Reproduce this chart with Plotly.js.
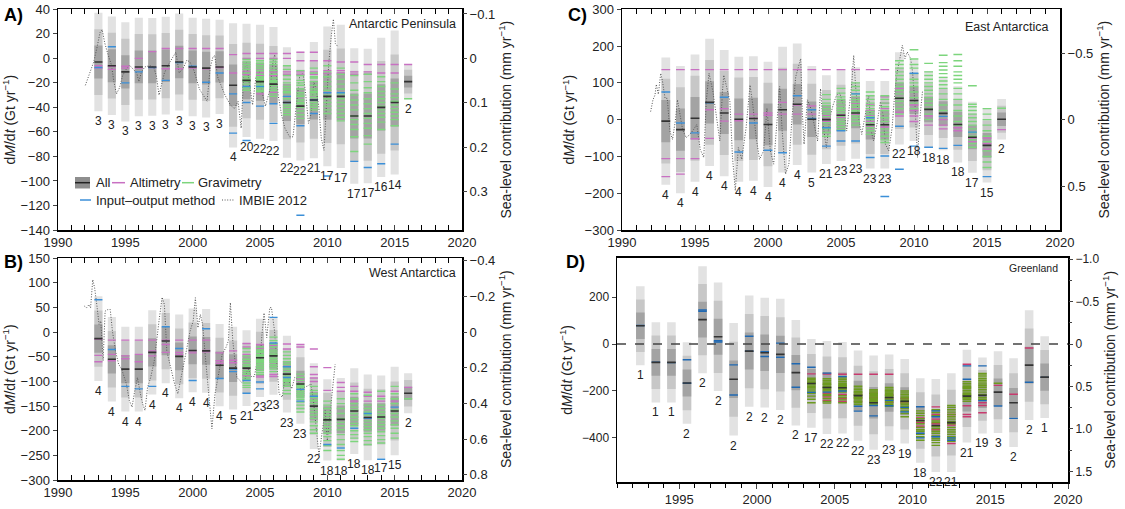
<!DOCTYPE html>
<html><head><meta charset="utf-8">
<script src="https://cdn.plot.ly/plotly-3.0.1.min.js"></script>
<style>html,body{margin:0;padding:0;background:#fff}#chart{width:1125px;height:509px}</style>
</head><body><div id="chart"></div>
<script>
// ---------------- DATA ----------------
const A_years = [1993,1994,1995,1996,1997,1998,1999,2000,2001,2002,2003,2004,2005,2006,2007,2008,2009,2010,2011,2012,2013,2014,2015,2016];
const A_mean  = [-3,-6,-11,-7,-7,-6,-3,-7,-8,-7,-22,-18,-19,-21,-36,-39,-34,-31,-31,-47,-47,-40,-36,-19];
const A_sigma = [13.4,13.4,13.5,13.4,13.3,13.3,13.2,13.4,13.4,12.8,16.9,15.4,15.5,15.5,15.0,14.8,15.8,19.0,19.5,18.4,18.3,18.9,19.6,4.8];
const A_count = [3,3,3,3,3,3,3,3,3,3,4,20,22,22,22,22,21,17,17,17,17,16,14,2];
const A_alt = [[-6,-8],[-6.5,-9],[-6.5,-8],[0,-8],[5.5,-7.5],[8,-8.5],[8,-8.5],[8,-8],[8,-8.5],[8,-7.5],[3,-12],
  [4,0,-11,-13],[4,0,-12,-14,-29],[4,0,-11,-14,-28],[4,0,-11,-13],[5,-2,-11,-13],[5,-2,-11,-13],[-2,-10,-12],[-3,-10,-12],[-3,-11,-13],[-5,-11,-13],[-5,-12],[-5,-12],[-5]];
const A_grav = [[],[],[],[],[],[],[],[],[],[],[],
  [-1,-3,-5,-7,-9,-12,-15,-17,-19,-21,-24,-26,-18],
  [-2,-4,-6,-8,-10,-13,-15,-16,-18,-20,-22,-24,-26,-27,-17],
  [-1,-3,-5,-8,-10,-13,-16,-18,-19,-22,-24,-26,-29,-31,-20],
  [-6,-9,-14,-17,-20,-23,-25,-28,-31,-33,-38,-40,-42,-44,-46,-27],
  [-10,-14,-18,-22,-25,-28,-31,-34,-37,-40,-43,-46,-49,-20,-36,-30],
  [-8,-12,-16,-19,-22,-25,-28,-30,-32,-36,-38,-40,-42,-27,-15],
  [-6,-11,-15,-19,-23,-26,-30,-33,-36,-39,-42,-45],
  [-8,-13,-17,-21,-25,-29,-33,-36,-39,-42,-45,-48,-51],
  [-14,-20,-26,-30,-34,-38,-42,-47,-50,-54,-58,-64,-76],
  [-13,-19,-24,-28,-33,-37,-41,-45,-49,-53,-57,-63,-70],
  [-15,-19,-23,-27,-30,-33,-36,-39,-42,-45,-48,-52,-58],
  [-20,-25,-29,-32,-35,-38,-41,-44,-47,-50,-55],
  [-33]];
const A_iom = [[-7.5],[9.5],[-20],[-11],[-7.5],[-18],[-3.5],[-6.5],[-19.5],[-12],[-29,-61],
  [-23,-36,-67],[-23,-39],[-37,-53],[-31,-36],[-55,-128],[-34,-45],[-28,-96],[-28],[-84],[-89],[-86],[-70],[]];
const A_imbieX = [1992.03,1992.26,1992.49,1992.65,1992.88,1993.12,1993.28,1993.46,1993.69,1993.97,1994.15,1994.34,1994.57,1994.8,1995.03,1995.3,1995.6,1995.85,1996.0,1996.2,1996.45,1996.8,1997.1,1997.3,1997.5,1997.7,1997.9,1998.15,1998.45,1998.75,1999.0,1999.3,1999.57,1999.8,2000.1,2000.5,2001.07,2001.3,2001.5,2001.64,2001.85,2002.1,2002.4,2002.8,2003.1,2003.37,2003.6,2003.8,2004.0,2004.2,2004.45,2004.7,2004.95,2005.1,2005.4,2005.75,2006.0,2006.1,2006.35,2006.6,2006.85,2007.2,2007.45,2007.7,2007.95,2008.2,2008.4,2008.6,2008.8,2009.0,2009.15,2009.35,2009.55,2009.75,2009.95,2010.1,2010.3,2010.45,2010.6,2010.75];
const A_imbieY = [-22,-15,-7,-3,8,21,23.5,13,4,-5.5,-19,-29,-24,-14,-9.5,-5.5,-9,-12,-19,-11,-7,-6,-7,-14,-30,-20,-12,-6,0,5,-12,-8,-1.5,-3,-10,-25,-35,-8,1,2.5,-15,-22,-30,-38,-41,-35,-57,-11,-3,-20,-38,-15,-11,-25,-39,-25,0,3,-30,-46,-57,-64,-64,-38,-14,-12,-30,-53,-45,-19,-25,-38,-65,-75,-40,-5,19,32,12,10];

const B_years = [1993,1994,1995,1996,1997,1998,1999,2000,2001,2002,2003,2004,2005,2006,2007,2008,2009,2010,2011,2012,2013,2014,2015,2016];
const B_mean  = [-13,-55,-75,-75,-41,-18,-49,-37,-38,-67,-73,-73,-52,-48,-85,-105,-150,-178,-177,-160,-173,-172,-160,-124];
const B_sigma = [28.6,28.6,28.7,28.7,28.5,28.6,28.3,28.3,28.3,27.8,28,25.6,26.5,26.3,26,27,29,27.5,28,29,29,28,30,13.5];
const B_count = [4,4,4,4,4,4,4,4,4,4,5,21,23,23,23,23,22,18,18,18,18,17,15,2];
const B_alt = [[-14,-47,-60],[-16,-45,-58],[-16,-48,-54],[-16,-45,-60],[-16,-38,-48],[-16,-25,-41],[-16,-41,-45],[-16,-38,-42],[-16,-37,-40],[-42,-58,-63],[-38,-57,-62],
  [-23,-30,-45,-88],[-25,-32,-88,-91],[-27,-35,-86,-90],[-24,-34,-85,-90],[-25,-30,-95,-100],[-34,-70,-86,-93,-100],[-72,-118],[-102,-112,-120],[-110,-120,-140],[-122,-130,-140],[-130,-140],[-120,-140],[-112]];
const B_grav = [[],[],[],[],[],[],[],[],[],[],[],
  [-33,-40,-48,-55,-60,-66,-70,-78,-82,-86,-92,-96,-103,-108,-112],
  [-30,-36,-41,-45,-50,-55,-58,-62,-66,-70,-74,-78,-82,-86,-60,-47,-39],
  [-10,-17,-24,-30,-36,-40,-44,-48,-53,-57,-61,-66,-70,-75,-80,-58,-46],
  [-40,-47,-54,-60,-65,-70,-75,-80,-85,-89,-95,-100,-105,-110,-118,-125,-98],
  [-85,-92,-98,-104,-108,-112,-116,-120,-124,-128,-132,-136,-142,-148,-155,-162,-110],
  [-110,-118,-125,-132,-138,-145,-150,-156,-162,-168,-175,-182,-190,-198,-205,-140],
  [-140,-148,-155,-162,-168,-174,-180,-186,-192,-198,-205,-212,-220,-230,-240],
  [-135,-145,-155,-165,-175,-183,-190,-198,-208,-218,-228,-240,-250,-258],
  [-125,-135,-145,-152,-158,-165,-172,-178,-185,-190,-200,-208,-215,-222],
  [-128,-148,-155,-162,-168,-180,-186,-192,-198,-205,-212,-220,-228],
  [-120,-135,-148,-155,-162,-168,-175,-182,-188,-195,-202,-210,-218,-225],
  [-110,-125,-135,-145,-158,-165,-172,-180,-188,-195,-205,-215],
  [-135]];
const B_iom = [[66],[-35],[-110],[-115],[-110],[11],[-33],[-98],[7],[-94],[-75,-80],
  [-98,-124],[-101,-115],[30,-22],[-70,-92],[-116,-140],[-130],[-228],[-235],[-195],[-165,-175],[-258],[-152],[]];
const B_imbieX = [1991.96,1992.12,1992.3,1992.42,1992.58,1992.72,1992.88,1993.05,1993.18,1993.35,1993.5,1993.7,1993.88,1994.04,1994.27,1994.5,1994.73,1995.08,1995.3,1995.5,1995.66,1995.9,1996.12,1996.28,1996.46,1996.65,1996.88,1997.15,1997.5,1997.73,1997.9,1998.08,1998.31,1998.66,1998.9,1999.12,1999.35,1999.58,1999.81,2000.04,2000.2,2000.39,2000.57,2000.74,2000.97,2001.2,2001.43,2001.66,2001.9,2002.19,2002.47,2002.65,2002.8,2002.98,2003.28,2003.5,2003.65,2003.88,2004.1,2004.35,2004.58,2004.8,2004.99,2005.15,2005.3,2005.5,2005.73,2005.85,2006.08,2006.24,2006.42,2006.65,2006.88,2007.1,2007.35,2007.58,2007.8,2008.04,2008.27,2008.55,2008.78,2008.97,2009.2,2009.38,2009.6,2009.84,2010.0,2010.17,2010.35,2010.58];
const B_imbieY = [53,49.5,56,49.5,106.7,90,56,16,22.6,-58,42.8,46,46,2.4,-38,-65,-75,-105,-139,-152,-125,-92,-125,-145,-159,-112,-92,-58,22.6,71,56,-38,-65,-105,-125,-92,-58,-31,2.4,22.6,70,9,36,16,-58,-125,-196,-125,-92,-45,-31,-18,60,-18,-92,-98,-102,-97,-72,-90,-90,-58,-61,-4,39,-11,50,50,2.4,-58,-125,-132,-88,-95,-115,-92,-95,-119,-112,-109,-105,-139,-199,-250,-206,-159,-220,-179,-125,-65];

const C_years = [1993,1994,1995,1996,1997,1998,1999,2000,2001,2002,2003,2004,2005,2006,2007,2008,2009,2010,2011,2012,2013,2014,2015,2016];
const C_mean  = [-4,-27,4,47,18,1,3,-13,27,42,1,0,12,18,-14,-14,58,52,28,17,-13,-48,-70,1];
const C_sigma = [57.7,57.6,57.7,57.7,57.2,56.7,56.4,56.8,57,55,48.3,40.3,41.5,41.5,39.7,39.7,41.8,36.7,34.8,33.3,34.5,32.2,33.7,18.3];
const C_count = [4,4,4,4,4,4,4,4,4,4,5,21,23,23,23,23,22,18,18,18,18,17,15,2];
const C_alt = [[136,-106,-155],[136,-106,-148],[136,-52,-106],[136,27,-51],[136,30,-4],[136,15,-3],[136,15,4],[136,18,12],[136,47,15],[136,15,40],[136,37,15],
  [136,12,5,-5,-15],[136,40,25,15,5],[136,60,45,30,15],[136,40,25,10,-5,-20],[136,62,45,30,15,-5,-20],[85,60,40,20,10],[40,25,10,-5],[10,0,-15],[0,-15,-25],[-22,-30],[-50,-60],[-50,-65,-80],[-27]];
const C_grav = [[],[],[],[],[],[],[],[],[],[],[],
  [68,55,45,38,30,22,15,8,0,-8,-15,-25,-35,-45],
  [85,72,62,55,48,40,32,25,18,10,2,-5,-12,-20,-28,30],
  [100,90,80,70,62,55,48,40,33,25,18,10,3,-5,-15,20],
  [75,65,55,45,38,30,22,15,8,0,-8,-15,-22,-30,-40],
  [65,55,45,35,25,15,5,-5,-15,-25,-35,-45,-55,-62],
  [160,150,140,130,120,110,100,90,80,70,60,50,40,30,15],
  [190,165,150,140,125,110,100,90,75,60,45,30],
  [153,130,120,110,100,90,80,70,60,50,40,30,15,0],
  [175,155,145,135,125,115,105,95,85,70,55,40,25],
  [177,160,145,130,120,110,100,85,70,55,40,25,10,-5,-15],
  [92,42,35,25,15,5,-5,-15,-25,-35,-45,-55,-65,-75],
  [30,15,0,-15,-30,-45,-60,-85,-100,-115,-130],
  [31]];
const C_iom = [[75],[-9],[-36],[46],[61],[-88],[-9],[-83],[-90],[65],[27,3],
  [-22,-72],[-30,-58],[-58,70],[-103,5],[-99,-209],[-18,-135],[126,-72],[-75],[9,-78],[-70],[-34],[-155],[]];
const C_imbieX = [1991.96,1992.12,1992.26,1992.35,1992.49,1992.65,1992.77,1992.95,1993.1,1993.28,1993.46,1993.65,1993.8,1993.97,1994.15,1994.39,1994.66,1994.9,1995.12,1995.36,1995.6,1995.77,1995.96,1996.23,1996.46,1996.7,1996.88,1996.97,1997.16,1997.39,1997.57,1997.76,1997.97,1998.2,1998.5,1998.77,1998.96,1999.19,1999.42,1999.7,1999.93,2000.16,2000.39,2000.62,2000.8,2000.97,2001.2,2001.43,2001.66,2001.9,2002.12,2002.24,2002.35,2002.47,2002.7,2002.93,2003.16,2003.4,2003.6,2003.77,2004.0,2004.23,2004.46,2004.7,2004.92,2005.15,2005.39,2005.55,2005.73,2005.87,2006.0,2006.2,2006.42,2006.66,2006.9,2007.07,2007.23,2007.46,2007.7,2007.88,2008.04,2008.27,2008.5,2008.69,2008.85,2009.03,2009.2,2009.38,2009.54,2009.77,2009.9,2010.07,2010.24,2010.4,2010.58];
const C_imbieY = [22,54,67,96,69,126,105,58,58,-31,-54,-4,54,13,-27,-49,-40,-27,-13,-81,-103,49,126,76,13,-58,76,121,90,49,-103,-193,-76,-108,-22,94,40,-49,-108,-85,31,-85,-121,-13,90,-31,-148,-121,13,117,153,166,22,-67,54,31,-13,-58,84,-13,-76,4,40,67,72,40,-31,22,94,175,90,4,-40,13,67,-31,-58,-13,49,13,-67,-85,-22,76,130,166,202,166,184,166,130,40,-103,4,76];

const D_years = [1992.5,1993.5,1994.5,1995.5,1996.5,1997.5,1998.5,1999.5,2000.5,2001.5,2002.5,2003.5,2004.5,2005.5,2006.5,2007.5,2008.5,2009.5,2010.5,2011.5,2012.5,2013.5,2014.5,2015.5,2016.5,2017.5,2018.5];
const D_mean  = [78,-78,-78,-166,104,31,-150,-30,-37,-44,-122,-168,-185,-186,-220,-250,-228,-244,-326,-347,-335,-222,-219,-205,-250,-90,-141];
const D_sigma = [56,57,57,58,76,77,80,79,78,79,75,63,66,65,64,67,61,60,60,66,70,66,54,58,63,78,58];
const D_count = [1,1,1,2,2,2,2,2,2,2,2,17,22,22,22,23,23,19,18,22,21,21,19,3,2,2,1];
const D_alt = [[],[],[],[],[],[],[],[],[],[],[],[-127],[-128,-210,-225,-240],[-129,-215,-232,-245],[-129,-215,-230,-245],[-129,-210,-228,-245],[-129,-215,-230,-248],[-232,-250],[-315,-335,-350],[-268,-300,-320,-340,-365],[-424,-300,-345],[-86,-263,-300,-310],[-293,-262,-250],[-176],[-214],[-17],[]];
const D_grav = [[],[],[],[],[],[],[],[],[],[],[],
  [-146,-152,-158,-163,-168,-174,-180,-186,-192,-200,-210,-222,-235,-250],
  [-148,-155,-162,-168,-175,-182,-188,-195,-200,-215,-220,-232,-245,-252,-172,-185],
  [-145,-152,-160,-167,-173,-180,-186,-192,-198,-205,-220,-228,-238,-250,-178,-190],
  [-180,-188,-195,-202,-208,-214,-220,-225,-232,-238,-244,-250,-258,-205,-218,-228],
  [-195,-200,-205,-210,-215,-220,-225,-230,-235,-240,-245,-250,-255,-260,-212,-222,-232],
  [-185,-192,-198,-205,-210,-216,-222,-228,-234,-240,-246,-252,-258,-265,-200,-220,-236],
  [-200,-208,-215,-222,-228,-234,-240,-246,-252,-258,-265,-275,-285,-296,-310],
  [-285,-295,-305,-318,-328,-340,-355,-365,-372,-385,-395,-410],
  [-280,-292,-305,-328,-335,-352,-360,-372,-380,-392,-402,-410,-420,-432],
  [-262,-270,-280,-290,-300,-310,-320,-330,-340,-355,-365,-375,-385,-395,-405,-415],
  [-160,-168,-175,-182,-190,-198,-205,-212,-220,-228,-236,-244,-185,-215,-230],
  [-125,-132,-140,-148,-155,-162,-170,-178,-185,-195,-205,-215,-228,-235],
  [-167],[],[],[]];
const D_iom = [[79],[-77],[-79],[-67,-167],[145,140],[14,9],[-89,-217],[33,-31],[-33,-53],[4,-56],[-84,-184],[-99,-206],[-124,-205],[-139,-200],[-286,-265],[-306,-262],[-263,-240],[-289,-270],[-267,-400,-380],[-285,-310,-395],[-410,-400],[-93,-150],[-93,-241],[-264],[-317],[-163],[-142]];

// ---------------- STYLE ----------------
const FONT = 'Liberation Sans, Arial, Helvetica, sans-serif';
const TXT = '#222';
const GRAYS = {3:'#e2e2e2', 2:'#c7c7c7', 1:'#a3a3a3'};
const COL_ABC = {alt:'#c870c2', grav:'#7dd57d', iom:'#3b8fd8', mean:'#333333'};
const COL_D   = {alt:'#c83a6e', grav:'#6c9a1f', iom:'#1f68b2', mean:'#333333'};
const GT_PER_MM = 362;
const DOT = '1px,1.6px';

function segs(xs, lists, w){
  const X=[], Y=[];
  xs.forEach((x,i)=>{ (lists[i]||[]).forEach(v=>{ X.push(x-w/2, x+w/2, null); Y.push(v, v, null); }); });
  return {X, Y};
}

const traces = [];
const annotations = [];
const shapes = [];

function panel(P){
  [3,2,1].forEach(k=>{
    traces.push({type:'bar', x:P.years, y:P.sigma.map(s=>2*k*s), base:P.mean.map((m,i)=>m-k*P.sigma[i]),
      width:P.w, marker:{color:GRAYS[k], line:{width:0}}, xaxis:P.xa, yaxis:P.ya, hoverinfo:'skip', showlegend:false});
  });
  if (P.imbieX) traces.push({type:'scatter', mode:'lines', x:P.imbieX, y:P.imbieY, xaxis:P.xa, yaxis:P.ya,
      line:{color:'#555', width:1, dash:DOT}, hoverinfo:'skip', showlegend:false});
  [['alt',P.alt],['grav',P.grav],['iom',P.iom],['mean',P.mean.map(m=>[m])]].forEach(([key,lists])=>{
    const s = segs(P.years, lists, P.w);
    traces.push({type:'scatter', mode:'lines', x:s.X, y:s.Y, xaxis:P.xa, yaxis:P.ya, connectgaps:false,
      line:{color:P.col[key], width: key==='mean'?1.6:1.4}, hoverinfo:'skip', showlegend:false});
  });
  traces.push({type:'scatter', mode:'markers', x:[P.years[0]], y:[0], xaxis:P.xa, yaxis:P.ya2, marker:{opacity:0}, hoverinfo:'skip', showlegend:false});
  P.years.forEach((x,i)=>{
    annotations.push({x:x, y:P.mean[i]-3*P.sigma[i], xref:P.xa, yref:P.ya, text:String(P.count[i]), showarrow:false,
      yanchor:'top', yshift:-1, font:{family:FONT, size:P.fs, color:TXT}});
  });
}

panel({years:A_years, mean:A_mean, sigma:A_sigma, count:A_count, alt:A_alt, grav:A_grav, iom:A_iom, imbieX:A_imbieX, imbieY:A_imbieY, w:0.6, xa:'x', ya:'y', ya2:'y5', col:COL_ABC, fs:12});
panel({years:B_years, mean:B_mean, sigma:B_sigma, count:B_count, alt:B_alt, grav:B_grav, iom:B_iom, imbieX:B_imbieX, imbieY:B_imbieY, w:0.6, xa:'x2', ya:'y2', ya2:'y6', col:COL_ABC, fs:12});
panel({years:C_years, mean:C_mean, sigma:C_sigma, count:C_count, alt:C_alt, grav:C_grav, iom:C_iom, imbieX:C_imbieX, imbieY:C_imbieY, w:0.6, xa:'x3', ya:'y3', ya2:'y7', col:COL_ABC, fs:12});
panel({years:D_years, mean:D_mean, sigma:D_sigma, count:D_count, alt:D_alt, grav:D_grav, iom:D_iom, w:0.55, xa:'x4', ya:'y4', ya2:'y8', col:COL_D, fs:12});

// ---------------- AXES ----------------
const px = v => v/1125, py = v => 1 - v/509;
const tf = {family:FONT, size:13, color:TXT};
function xax(dom, anchor, range, inside){
  return {domain:dom, anchor:anchor, range:range, dtick:5, tick0:2000, ticks:inside?'inside':'outside', ticklen:5, tickwidth:1,
    minor:{dtick:1, ticks:inside?'inside':'outside', ticklen:4, tickwidth:1, tickcolor:'#000'},
    mirror: inside?'allticks':true, showline:true, linecolor:'#000', linewidth:1.5, showgrid:false, zeroline:false, tickfont:tf, fixedrange:true};
}
function yax(dom, anchor, range, dtick, tickvals){
  const a = {domain:dom, anchor:anchor, range:range, ticks:'outside', ticklen:4, showline:true, mirror:true, linecolor:'#000', linewidth:1.5,
    showgrid:false, zeroline:false, tickfont:tf, fixedrange:true,
    title:{text:'d<i>M</i>/d<i>t</i> (Gt yr<sup>−1</sup>)', font:{family:FONT, size:14, color:TXT}, standoff:6}};
  if (tickvals) a.tickvals = tickvals; else a.dtick = dtick;
  return a;
}
function y2ax(over, anchor, range, vals){
  return {overlaying:over, anchor:anchor, side:'right', range:[-range[0]/GT_PER_MM, -range[1]/GT_PER_MM],
    tickvals:vals, ticktext:vals.map(v=> v<0 ? '−'+Math.abs(v).toFixed(String(v).includes('.')?1:0) : String(v)),
    ticks:'outside', ticklen:4, showline:false, showgrid:false, zeroline:false, tickfont:tf, fixedrange:true,
    title:{text:'Sea-level contribution (mm yr<sup>−1</sup>)', font:{family:FONT, size:14, color:TXT}, standoff:6}};
}
const A_range=[-140,40], B_range=[-300,150], C_range=[-300,300], D_range=[-588,368];
const domA_x=[px(58),px(462)], domA_y=[py(230),py(9.3)];
const domB_x=[px(58),px(462)], domB_y=[py(480),py(258.3)];
const domC_x=[px(622),px(1060)], domC_y=[py(230),py(9.3)];
const domD_x=[px(617),px(1068)], domD_y=[py(482),py(257.7)];

const layout = {
  width:1125, height:509, margin:{l:0,r:0,t:0,b:0}, paper_bgcolor:'#fff', plot_bgcolor:'#fff',
  barmode:'overlay', showlegend:false, font:{family:FONT, color:TXT},
  xaxis: xax(domA_x,'y',[1990,2020],true),
  yaxis: yax(domA_y,'x',A_range,20),
  xaxis2: xax(domB_x,'y2',[1990,2020],true),
  yaxis2: yax(domB_y,'x2',B_range,50),
  xaxis3: xax(domC_x,'y3',[1990,2020],true),
  yaxis3: yax(domC_y,'x3',C_range,100),
  xaxis4: xax(domD_x,'y4',[1991,2020],false),
  yaxis4: Object.assign(yax(domD_y,'x4',D_range,null,[-400,-200,0,200]), {tickfont:{family:FONT,size:12,color:TXT}}),
  yaxis5: y2ax('y','x',A_range,[-0.1,0,0.1,0.2,0.3]),
  yaxis6: y2ax('y2','x2',B_range,[-0.4,-0.2,0,0.2,0.4,0.6,0.8]),
  yaxis7: y2ax('y3','x3',C_range,[-0.5,0,0.5]),
  yaxis8: Object.assign(y2ax('y4','x4',D_range,[-1.0,-0.5,0,0.5,1.0,1.5]), {ticktext:['−1.0','−0.5','0','0.5','1.0','1.5'], tickfont:{family:FONT,size:12,color:TXT}, minor:{dtick:0.25, ticks:'outside', ticklen:3}}),
  annotations: annotations,
  shapes: shapes
};

shapes.push({type:'line', xref:'x4 domain', x0:0, x1:1, yref:'y4', y0:0, y1:0, line:{color:'#444', width:1.4, dash:'dash'}, layer:'above'});

const big = {family:FONT, size:18, color:'#000'};
[['<b>A)</b>',2,15],['<b>B)</b>',2,262],['<b>C)</b>',566,15],['<b>D)</b>',564,262]].forEach(([t,x,y])=>{
  annotations.push({text:t, xref:'paper', yref:'paper', x:px(x), y:py(y), xanchor:'left', yanchor:'middle', showarrow:false, font:big});
});
[['Antarctic Peninsula',458,24,12.5],['West Antarctica',458,273,12.5],['East Antarctica',1050,27,12.5],['Greenland',1060,268,10.5]].forEach(([t,x,y,s])=>{
  annotations.push({text:t, xref:'paper', yref:'paper', x:px(x), y:py(y), xanchor:'right', yanchor:'middle', showarrow:false, font:{family:FONT,size:s,color:TXT}});
});

const lf = {family:FONT, size:13, color:TXT};
const r1 = 182.7, r2 = 200;
shapes.push({type:'rect', xref:'paper', yref:'paper', x0:px(75), x1:px(90), y0:py(188.5), y1:py(177), fillcolor:'#8e8e8e', line:{width:0}});
shapes.push({type:'line', xref:'paper', yref:'paper', x0:px(75), x1:px(90), y0:py(r1), y1:py(r1), line:{color:'#222', width:1.5}});
shapes.push({type:'line', xref:'paper', yref:'paper', x0:px(112), x1:px(125), y0:py(r1), y1:py(r1), line:{color:COL_ABC.alt, width:1.5}});
shapes.push({type:'line', xref:'paper', yref:'paper', x0:px(182), x1:px(194), y0:py(r1), y1:py(r1), line:{color:COL_ABC.grav, width:1.5}});
shapes.push({type:'line', xref:'paper', yref:'paper', x0:px(80), x1:px(91), y0:py(r2), y1:py(r2), line:{color:COL_ABC.iom, width:1.5}});
shapes.push({type:'line', xref:'paper', yref:'paper', x0:px(222), x1:px(234), y0:py(r2), y1:py(r2), line:{color:'#555', width:1.2, dash:DOT}});
[['All',94,r1],['Altimetry',128,r1],['Gravimetry',196,r1],['Input–output method',94,r2],['IMBIE 2012',237,r2]].forEach(([t,x,y])=>{
  annotations.push({text:t, xref:'paper', yref:'paper', x:px(x), y:py(y), xanchor:'left', yanchor:'middle', showarrow:false, font:lf});
});

Plotly.newPlot('chart', traces, layout, {staticPlot:true, displayModeBar:false});
</script></body></html>
